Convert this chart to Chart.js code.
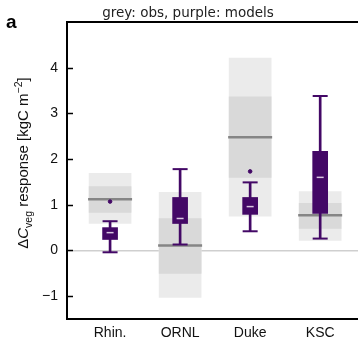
<!DOCTYPE html>
<html>
<head>
<meta charset="utf-8">
<script src="https://cdn.jsdelivr.net/npm/chart.js@4.4.1/dist/chart.umd.min.js"></script>
<style>
  html, body { margin: 0; padding: 0; background: #fff; }
  #wrap { width: 358px; height: 340px; }
</style>
</head>
<body>
<div id="wrap"><canvas id="chart"></canvas></div>
<script>
// sites along x
const sites = ["Rhin.", "ORNL", "Duke", "KSC"];
const yTicks = [-1, 0, 1, 2, 3, 4];

// observations (grey): outer range, inner range, central line
const obsOuterLow  = [0.59, -1.03, 0.75, 0.22];
const obsOuterHigh = [1.69, 1.27, 4.21, 1.29];
const obsInnerLow  = [0.83, -0.50, 1.60, 0.48];
const obsInnerHigh = [1.40, 0.70, 3.36, 1.03];
const obsMean      = [1.12, 0.11, 2.48, 0.77];

// models (purple): box plot
const modWhiskLow  = [-0.04, 0.13, 0.42, 0.26];
const modQ1        = [0.24, 0.59, 0.79, 0.81];
const modMedian    = [0.39, 0.70, 0.96, 1.60];
const modQ3        = [0.50, 1.16, 1.16, 2.17];
const modWhiskHigh = [0.64, 1.78, 1.49, 3.38];
const modOutliers  = [[1.07], [], [1.73], []];

const purple = "#430866";
const pos = sites.map((s, i) => i + 1);

const range = (lo, hi) => pos.map((x, i) => ({ x: x, y: [lo[i], hi[i]] }));
const pts = (vals) => pos.map((x, i) => ({ x: x, y: vals[i] }));
const outlierPts = [];
modOutliers.forEach((arr, i) => arr.forEach(v => outlierPts.push({ x: pos[i], y: v })));

const extras = {
  id: "extras",
  afterDraw(chart) {
    const { ctx, chartArea: a, scales: { y } } = chart;
    ctx.save();
    // top frame line
    ctx.strokeStyle = "#000";
    ctx.lineWidth = 2;
    ctx.beginPath();
    ctx.moveTo(a.left, a.top);
    ctx.lineTo(chart.width, a.top);
    ctx.stroke();
    // inward ticks
    ctx.lineWidth = 1.5;
    yTicks.forEach(v => {
      const py = Math.round(y.getPixelForValue(v)) + 0.5;
      ctx.beginPath();
      ctx.moveTo(a.left, py);
      ctx.lineTo(a.left + 6, py);
      ctx.stroke();
    });
    // panel letter and top note
    ctx.fillStyle = "#000";
    ctx.font = "bold 19px 'Liberation Sans', Arial, sans-serif";
    ctx.textAlign = "left";
    ctx.textBaseline = "alphabetic";
    ctx.fillText("a", 6, 28);
    ctx.font = "13.5px 'DejaVu Sans', sans-serif";
    ctx.fillStyle = "#222";
    ctx.textAlign = "center";
    ctx.fillText("grey: obs, purple: models", 188, 17);

    // y axis title with sub/superscript
    const base = "15px 'Liberation Sans', Arial, sans-serif";
    const small = "10.5px 'Liberation Sans', Arial, sans-serif";
    const parts = [
      { t: "\u0394", f: base, dy: 0 },
      { t: "C", f: "italic " + base, dy: 0 },
      { t: "veg", f: small, dy: 4 },
      { t: " response [kgC m", f: base, dy: 0 },
      { t: "\u22122", f: small, dy: -6 },
      { t: "]", f: base, dy: 0 }
    ];
    let total = 0;
    parts.forEach(p => { ctx.font = p.f; p.w = ctx.measureText(p.t).width; total += p.w; });
    ctx.translate(23, 163);
    ctx.rotate(-Math.PI / 2);
    ctx.textAlign = "left";
    ctx.fillStyle = "#111";
    let cx = -total / 2;
    parts.forEach(p => {
      ctx.font = p.f;
      ctx.fillText(p.t, cx, 5 + p.dy);
      cx += p.w;
    });
    ctx.restore();
  }
};

new Chart(document.getElementById("chart"), {
  type: "bar",
  data: {
    datasets: [
      { type: "scatter", data: outlierPts, pointStyle: "circle", radius: 1.8,
        backgroundColor: purple, borderColor: purple, order: 0 },
      { type: "scatter", data: pts(modMedian), pointStyle: "line", radius: 3.5,
        borderColor: "#d8c6df", borderWidth: 1.5, order: 1 },
      { type: "scatter", data: pts(modWhiskHigh), pointStyle: "line", radius: 7.5,
        borderColor: purple, borderWidth: 2, order: 2 },
      { type: "scatter", data: pts(modWhiskLow), pointStyle: "line", radius: 7.5,
        borderColor: purple, borderWidth: 2, order: 2 },
      { data: range(modQ1, modQ3), backgroundColor: purple, barThickness: 15,
        grouped: false, order: 3 },
      { data: range(modWhiskLow, modWhiskHigh), backgroundColor: purple, barThickness: 2,
        grouped: false, order: 4 },
      { type: "scatter", data: pts(obsMean), pointStyle: "line", radius: 22,
        borderColor: "#858585", borderWidth: 2.5, order: 5 },
      { data: range(obsInnerLow, obsInnerHigh), backgroundColor: "#d9d9d9", barThickness: 42,
        grouped: false, order: 6 },
      { data: range(obsOuterLow, obsOuterHigh), backgroundColor: "#ebebeb", barThickness: 42,
        grouped: false, order: 7 }
    ]
  },
  options: {
    responsive: true,
    maintainAspectRatio: false,
    animation: false,
    layout: { autoPadding: false, padding: { top: 22, right: 0, left: 0, bottom: 0 } },
    plugins: { legend: { display: false }, tooltip: { enabled: false } },
    scales: {
      x: {
        type: "linear",
        offset: false,
        min: 0.385,
        max: 4.54,
        afterBuildTicks: s => { s.ticks = pos.map(v => ({ value: v })); },
        afterFit: s => {
          s.height = 21;
          s.paddingLeft = 0; s.paddingRight = 0; s.paddingTop = 0; s.paddingBottom = 0;
        },
        grid: { display: false, drawTicks: false, offset: false },
        border: { color: "#000", width: 2 },
        ticks: {
          padding: 6,
          color: "#111",
          font: { family: "'Liberation Sans', Arial, sans-serif", size: 14 },
          callback: v => sites[v - 1]
        }
      },
      y: {
        min: -1.5,
        max: 5,
        afterBuildTicks: s => { s.ticks = yTicks.map(v => ({ value: v })); },
        afterFit: s => {
          s.width = 67;
          s.paddingLeft = 0; s.paddingRight = 0; s.paddingTop = 0; s.paddingBottom = 0;
        },
        grid: {
          drawTicks: false,
          color: c => (c.tick && c.tick.value === 0 ? "#cfcfcf" : "rgba(0,0,0,0)"),
          lineWidth: 1.5
        },
        border: { color: "#000", width: 2 },
        ticks: {
          padding: 9,
          color: "#111",
          font: { family: "'Liberation Sans', Arial, sans-serif", size: 14 },
          callback: v => (v < 0 ? "\u2212" + Math.abs(v) : String(v))
        }
      }
    }
  },
  plugins: [extras]
});
</script>
</body>
</html>
